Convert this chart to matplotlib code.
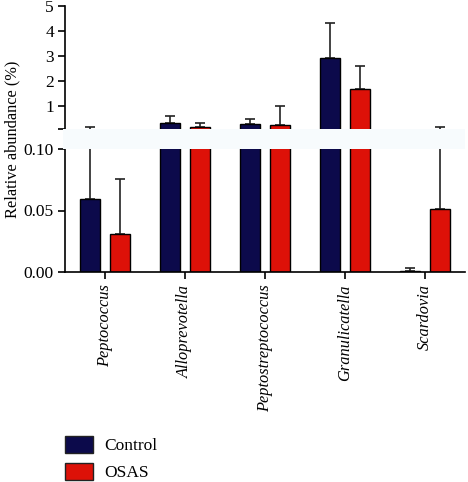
import matplotlib
matplotlib.use("Agg")
import matplotlib.pyplot as plt
from matplotlib.patches import Rectangle, Patch
import numpy as np

plt.rcParams['font.family'] = ['Liberation Serif', 'DejaVu Serif']

genera = ["Peptococcus", "Alloprevotella", "Peptostreptococcus", "Granulicatella", "Scardovia"]
control_mean = [0.059, 0.35, 0.29, 2.93, 0.001]
control_sd = [0.11, 0.28, 0.22, 1.39, 0.0025]
osas_mean = [0.031, 0.16, 0.25, 1.71, 0.051]
osas_sd = [0.045, 0.17, 0.75, 0.90, 0.11]
groups = ["Control", "OSAS"]
colors = ["#0c0a4b", "#dd1108"]

W, H = 468, 482
fig = plt.figure(figsize=(W / 100, H / 100), dpi=100)

def fx(px):
    return px / W

def fy(py):
    return 1 - py / H

left_px, right_px = 65, 465
ax_top = fig.add_axes([fx(left_px), fy(129), fx(right_px - left_px), (129 - 6) / H])
ax_bot = fig.add_axes([fx(left_px), fy(272), fx(right_px - left_px), (272 - 149) / H])

x = np.arange(len(genera))
w = 0.25
off = 0.1875

for ax in (ax_top, ax_bot):
    for i, (m, s) in enumerate([(control_mean, control_sd), (osas_mean, osas_sd)]):
        xs = x + (-off if i == 0 else off)
        ax.bar(xs, m, width=w, color=colors[i], edgecolor="black", linewidth=1.0, zorder=2)
        ax.errorbar(xs, m, yerr=[np.zeros(len(m)), s], fmt="none", ecolor="#222222",
                    elinewidth=1.2, capsize=3.8, capthick=1.2, zorder=1)
    ax.set_xlim(-0.5, 4.5)
    for sp in ("top", "right"):
        ax.spines[sp].set_visible(False)
    ax.spines["left"].set_linewidth(1.2)
    ax.tick_params(axis="y", direction="out", length=5, width=1.2, labelsize=12.5, pad=3)

ax_top.set_ylim(0.1, 5)
ax_top.spines["bottom"].set_visible(False)
ax_top.set_yticks([0.1, 1, 2, 3, 4, 5])
ax_top.set_yticklabels(["", "1", "2", "3", "4", "5"])
ax_top.set_xticks([])

ax_bot.set_ylim(0, 0.1)
ax_bot.set_yticks([0, 0.05, 0.10])
ax_bot.set_yticklabels(["0.00", "0.05", "0.10"])
ax_bot.spines["bottom"].set_linewidth(1.2)
ax_bot.set_xticks(x)
ax_bot.set_xticklabels(genera, rotation=90, style="italic", fontsize=11.8)
ax_bot.tick_params(axis="x", direction="out", length=5, width=1.2, pad=4)

# break band
fig.add_artist(Rectangle((fx(63), fy(149)), fx(465 - 63), (149 - 129) / H,
                         transform=fig.transFigure, facecolor="#f7fbfd", edgecolor="none", zorder=3))

fig.text(fx(12), fy(139), "Relative abundance (%)", rotation=90, ha="center", va="center", fontsize=11.8)

handles = [Patch(facecolor=c, edgecolor="#222222", linewidth=1.0) for c in colors]
fig.legend(handles, groups, loc="upper left", bbox_to_anchor=(fx(58), fy(429)), frameon=False,
           fontsize=12.5, handlelength=1.6, handleheight=1.1, labelspacing=0.5, handletextpad=0.65,
           borderaxespad=0)

fig.savefig("out.png", dpi=100)
